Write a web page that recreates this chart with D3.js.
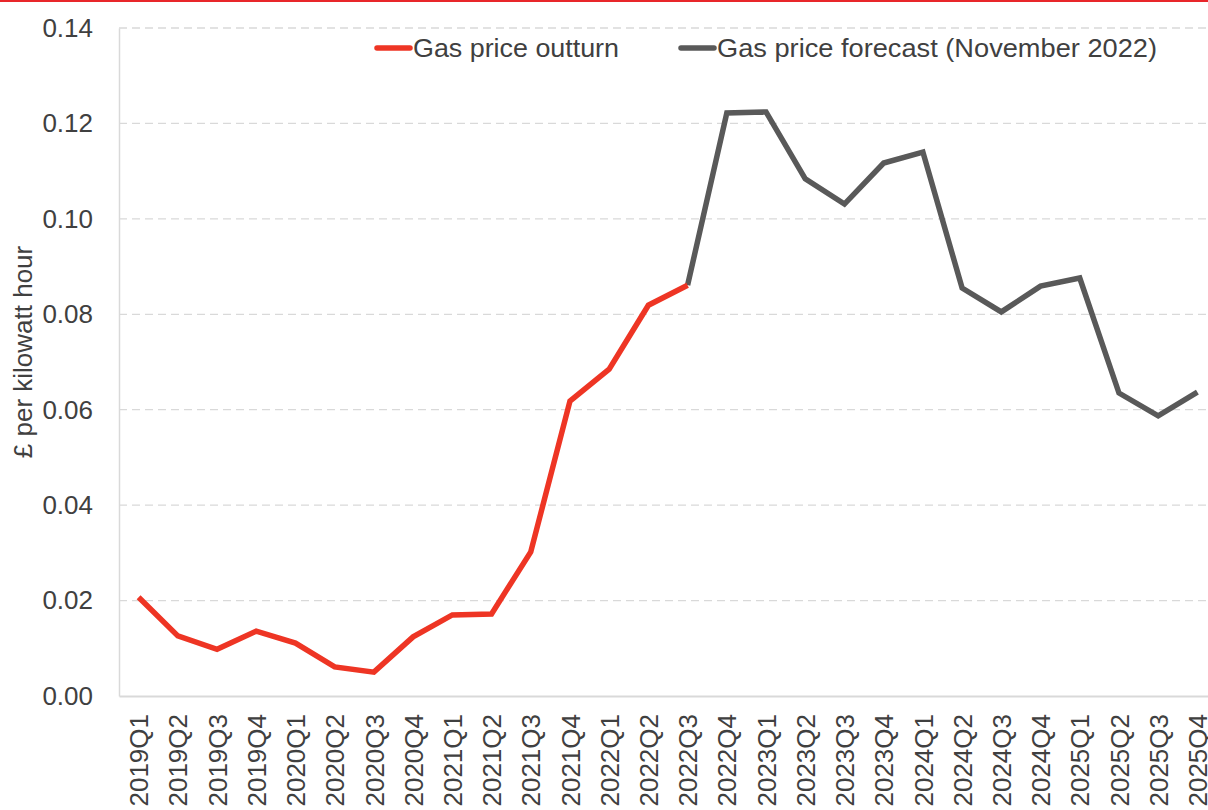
<!DOCTYPE html>
<html>
<head>
<meta charset="utf-8">
<script src="https://cdn.jsdelivr.net/npm/d3@7"></script>
<style>
  body { margin: 0; background: #fff; }
  #viz { width: 1208px; height: 810px; position: relative; overflow: hidden; }
  text { font-family: "Liberation Sans", Arial, sans-serif; fill: #404040; }
</style>
</head>
<body>
<div id="viz"><svg id="chart" width="1208" height="810"></svg></div>
<script>
const quarters = ["2019Q1","2019Q2","2019Q3","2019Q4","2020Q1","2020Q2","2020Q3","2020Q4",
    "2021Q1","2021Q2","2021Q3","2021Q4","2022Q1","2022Q2","2022Q3","2022Q4",
    "2023Q1","2023Q2","2023Q3","2023Q4","2024Q1","2024Q2","2024Q3","2024Q4",
    "2025Q1","2025Q2","2025Q3","2025Q4"]

// outturn runs 2019Q1..2022Q3, forecast picks up at 2022Q3
const outturn = [0.0207, 0.0126, 0.0098, 0.0136, 0.0111, 0.0061, 0.0050, 0.0124,
    0.0170, 0.0172, 0.0302, 0.0618, 0.0685, 0.0819, 0.0861]
const forecast = [0.0861, 0.1222, 0.1224, 0.1084, 0.1031, 0.1117, 0.1140, 0.0855,
    0.0805, 0.0859, 0.0876, 0.0635, 0.0587, 0.0637]
const forecast_start = 14

const y_ticks = [0, 0.02, 0.04, 0.06, 0.08, 0.10, 0.12, 0.14]

const svg = d3.select("#chart"),
    font_size = "26px",
    margin = {left: 119, top: 28, bottom: 114},
    width = 1098,
    height = 810 - margin.top - margin.bottom

// thin red rule at the very top
svg.append("rect")
    .attr("x", 0).attr("y", 0)
    .attr("width", 1208).attr("height", 2)
    .attr("fill", "#e8262a")

const g = svg.append("g").attr("transform", `translate(${margin.left},${margin.top})`)

const x = d3.scalePoint().domain(quarters).range([0, width]).padding(0.5)
const y = d3.scaleLinear().domain([0, 0.14]).range([height, 0])

// gridlines
g.append("g")
    .selectAll("line")
    .data(y_ticks.slice(1))
    .enter().append("line")
    .attr("x1", 0).attr("x2", width)
    .attr("y1", d => y(d)).attr("y2", d => y(d))
    .attr("stroke", "#d9d9d9")
    .attr("stroke-width", 1.3)
    .attr("stroke-dasharray", "8,5")

// y axis
const yAxis = g.append("g")
    .call(d3.axisLeft(y).tickValues(y_ticks).tickFormat(d3.format(".2f")).tickSize(0).tickPadding(26))
yAxis.select(".domain").attr("stroke", "#d9d9d9").attr("stroke-width", 1.5)
yAxis.selectAll("text").style("font-size", font_size).attr("fill", "#404040")

// x axis
const xAxis = g.append("g")
    .attr("transform", `translate(0,${height})`)
    .call(d3.axisBottom(x).tickSize(0))
xAxis.select(".domain").attr("stroke", "#d9d9d9").attr("stroke-width", 2)
xAxis.selectAll("text")
    .style("font-size", font_size)
    .attr("fill", "#404040")
    .attr("text-anchor", "end")
    .attr("transform", "rotate(-90)")
    .attr("x", -18)
    .attr("y", 0)
    .attr("dy", "0.35em")

// axis title
svg.append("text")
    .attr("transform", `translate(32,352) rotate(-90)`)
    .attr("text-anchor", "middle")
    .style("font-size", font_size)
    .text("£ per kilowatt hour")

const line = d3.line()
    .x(d => x(d.q))
    .y(d => y(d.v))

const outturn_pts = outturn.map((v, i) => ({q: quarters[i], v: v}))
const forecast_pts = forecast.map((v, i) => ({q: quarters[forecast_start + i], v: v}))

g.append("path")
    .datum(forecast_pts)
    .attr("d", line)
    .attr("fill", "none")
    .attr("stroke", "#595959")
    .attr("stroke-width", 5.5)

g.append("path")
    .datum(outturn_pts)
    .attr("d", line)
    .attr("fill", "none")
    .attr("stroke", "#ee3524")
    .attr("stroke-width", 5.5)

// legend
const legend = [
    {label: "Gas price outturn", color: "#ee3524", x: 377, len: 206},
    {label: "Gas price forecast (November 2022)", color: "#595959", x: 681, len: 440}
]
const lg = svg.append("g").selectAll("g")
    .data(legend)
    .enter().append("g")
    .attr("transform", d => `translate(${d.x},48)`)
lg.append("line")
    .attr("x1", 0).attr("x2", 33)
    .attr("stroke", d => d.color)
    .attr("stroke-width", 5.5)
    .attr("stroke-linecap", "round")
lg.append("text")
    .attr("x", 36)
    .attr("dy", "0.35em")
    .attr("textLength", d => d.len)
    .attr("lengthAdjust", "spacingAndGlyphs")
    .style("font-size", font_size)
    .text(d => d.label)
</script>
</body>
</html>
